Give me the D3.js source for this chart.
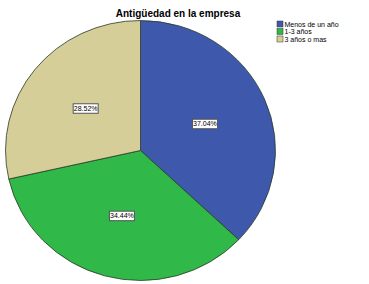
<!DOCTYPE html>
<html>
<head>
<meta charset="utf-8">
<script src="https://cdn.jsdelivr.net/npm/d3@7"></script>
<style>
  body { margin: 0; background: #fff; }
  text { font-family: "Liberation Sans", Arial, sans-serif; }
</style>
</head>
<body>
<div id="pie_chart"></div>
<script>
// data
var categories = ['Menos de un año', '1-3 años', '3 años o mas'];
var percents = [37.04, 34.44, 28.52];
var colors = ['rgb(62,88,172)', 'rgb(48,184,72)', 'rgb(213,206,152)'];
var title = 'Antigüedad en la empresa';

var width = 369, height = 284;
var cx = 140.5, cy = 150.5;
var rx = 135, ry = 130;

var svg = d3.select('#pie_chart').append('svg')
    .attr('width', width)
    .attr('height', height);

// title
svg.append('text')
    .attr('x', 178)
    .attr('y', 17)
    .attr('text-anchor', 'middle')
    .style('font-size', '10px')
    .style('font-weight', 'bold')
    .text(title);

var color = d3.scaleOrdinal().domain(categories).range(colors);

var pie = d3.pie().sort(null).value(function(d) { return d.value; });
var data = categories.map(function(c, i) { return {name: c, value: percents[i]}; });
var arcs = pie(data);

var arc = d3.arc().innerRadius(0).outerRadius(rx);
var labelArc = d3.arc().innerRadius(rx * 0.52).outerRadius(rx * 0.52);

// pie is slightly squashed vertically
var g = svg.append('g')
    .attr('transform', 'translate(' + cx + ',' + cy + ') scale(1,' + (ry / rx) + ')');

g.selectAll('path')
    .data(arcs)
    .join('path')
    .attr('d', arc)
    .attr('fill', function(d) { return color(d.data.name); })
    .attr('stroke', '#2a3a2a')
    .attr('stroke-width', 0.8)
    .attr('vector-effect', 'non-scaling-stroke');

// labels
var lg = svg.append('g').attr('transform', 'translate(' + cx + ',' + cy + ')');
var labels = lg.selectAll('.lbl')
    .data(arcs)
    .join('g')
    .attr('class', 'lbl')
    .attr('transform', function(d) {
        var p = labelArc.centroid(d);
        return 'translate(' + p[0] + ',' + (p[1] * ry / rx) + ')';
    });
labels.append('rect')
    .attr('x', -12.5)
    .attr('y', -4.5)
    .attr('width', 25)
    .attr('height', 9.5)
    .attr('fill', '#fff')
    .attr('stroke', '#555')
    .attr('stroke-width', 1);
labels.append('text')
    .attr('text-anchor', 'middle')
    .attr('y', 2.6)
    .style('font-size', '7px')
    .text(function(d) { return d.data.value.toFixed(2) + '%'; });

// legend
var legend = svg.append('g').attr('transform', 'translate(277,21)');
var items = legend.selectAll('.leg')
    .data(categories)
    .join('g')
    .attr('class', 'leg')
    .attr('transform', function(d, i) { return 'translate(0,' + (i * 7.5) + ')'; });
items.append('rect')
    .attr('width', 6)
    .attr('height', 6)
    .attr('fill', function(d) { return color(d); })
    .attr('stroke', '#333')
    .attr('stroke-width', 0.5);
items.append('text')
    .attr('x', 7.5)
    .attr('y', 5.5)
    .style('font-size', '7px')
    .text(function(d) { return d; });
</script>
</body>
</html>
